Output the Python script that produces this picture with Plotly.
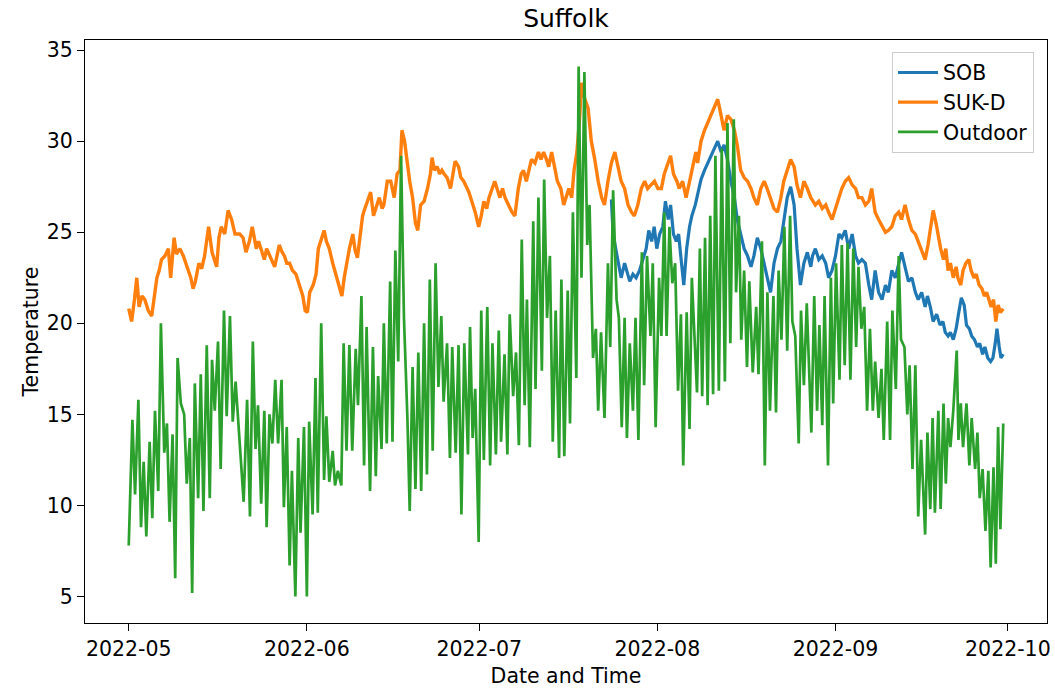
import pandas as pd
import plotly.graph_objects as go

START = pd.Timestamp("2022-05-01")

# Outdoor temperature: elapsed days since 1 May 2022 and readings (deg C)
outdoor_days = [
    0.0, 0.64, 1.1, 1.68, 2.14, 2.6, 3.06, 3.64, 4.1, 4.57, 5.14, 5.6, 6.18, 6.65, 7.11, 7.63,
    8.09, 8.5, 9.07, 9.65, 10.1, 10.63, 11.04, 11.5, 12.08, 12.54, 13.0, 13.58, 14.1, 14.5,
    14.97, 15.54, 16.0, 16.58, 17.05, 17.62, 18.1, 18.6,
    20.0, 20.6, 21.1, 21.6, 22.07, 22.5, 23.05, 23.6, 24.0, 24.5, 25.0, 25.5, 26.0, 26.6, 27.0,
    27.5, 28.0, 28.4, 29.0, 29.5, 29.9, 30.5, 31.0, 31.4, 32.0, 32.5, 32.9, 33.5, 34.0, 34.4,
    34.9, 35.5, 35.9, 36.4, 37.0, 37.4, 37.9, 38.4,
    38.9, 39.5, 39.9, 40.5, 40.96, 41.4, 42.0, 42.5, 43.0, 43.4, 44.0, 44.4, 44.9, 45.5, 45.9,
    46.4, 46.9, 47.4, 47.9, 48.5, 48.9, 49.4, 49.9, 50.4, 50.9, 51.4, 51.9, 52.4, 52.9, 53.4,
    53.9, 54.4, 54.8, 55.4, 55.9, 56.3, 56.9, 57.4, 57.9, 58.4,
    59.04, 59.4, 59.85, 60.3, 60.9, 61.35, 61.8, 62.4, 62.9, 63.3, 63.9, 64.4, 64.8, 65.4,
    65.9, 66.3, 66.9, 67.4, 67.9, 68.4, 68.9, 69.3, 69.8, 70.4, 70.8, 71.3, 71.9, 72.3, 72.8,
    73.3, 73.8, 74.3, 74.9, 75.3, 75.8, 76.4, 76.8, 77.3, 77.9, 78.3,
    78.8, 79.3, 79.8, 80.2, 80.8, 81.3, 81.7, 82.2, 82.8, 83.4, 83.8, 84.3, 84.9, 85.3, 85.8,
    86.3, 86.7, 87.2, 87.75, 88.2, 88.7, 89.3, 89.7, 90.2, 90.8, 91.2, 91.7, 92.3, 92.7, 93.2,
    93.6, 94.1, 94.6, 95.1, 95.6, 96.1, 96.5, 97.1, 97.6, 98.0,
    98.9, 99.4, 99.8, 100.3, 100.75, 101.2, 101.7, 102.1, 102.7, 103.2, 103.75, 104.2, 104.7,
    105.3, 105.7, 106.2, 106.6, 107.1, 107.6, 108.0, 108.6, 109.2, 109.6, 110.2, 110.7,
    111.15, 111.6, 112.2, 112.65, 113.1, 113.6, 114.1, 114.6, 115.1, 115.5, 116.0, 116.6,
    117.0, 117.5, 118.0,
    118.8, 119.3, 119.8, 120.2, 120.7, 121.1, 121.7, 122.2, 122.6, 123.1, 123.7, 124.1, 124.6,
    125.1, 125.6, 126.1, 126.6, 127.0, 127.5, 128.0, 128.5, 129.0, 129.5, 129.9, 130.5, 131.0,
    131.4, 132.0, 132.5, 132.9, 133.5, 134.0, 134.4, 135.0, 135.5, 135.9, 136.4, 136.9, 137.4,
    137.9,
    138.6, 139.0, 139.5, 139.9, 140.3, 140.9, 141.3, 141.8, 142.2, 142.6, 143.0, 143.5, 144.1,
    144.4, 144.8, 145.2, 145.8, 146.3, 146.7, 147.3, 147.7, 148.1, 148.6, 149.1, 149.6, 150.0,
    150.5, 150.9, 151.3, 151.7, 152.2,
]
outdoor_temp = [
    7.8, 14.7, 10.6, 15.8, 8.8, 12.4, 8.3, 13.5, 9.3, 15.2, 10.8, 20.0, 12.9, 14.5, 9.1, 13.9,
    6.0, 18.1, 15.6, 15.0, 11.2, 13.7, 5.2, 16.7, 10.4, 17.2, 9.7, 18.8, 10.4, 18.0,
    15.2, 19.0, 12.0, 20.7, 14.9, 20.4, 14.6, 16.8,
    10.2, 15.8, 9.4, 19.0, 13.1, 15.5, 10.1, 15.2, 8.8, 15.0, 13.4, 16.9, 13.4, 16.9, 9.9,
    14.3, 6.7, 11.9, 5.0, 13.7, 8.5, 14.3, 5.0, 14.6, 9.5, 17.0, 9.6, 20.0, 11.4, 14.9,
    11.3, 13.0, 11.1, 11.9, 11.1, 18.9, 13.0, 18.8,
    13.0, 18.6, 15.5, 21.5, 12.2, 19.8, 10.8, 18.7, 11.6, 17.1, 13.1, 20.0, 13.4, 22.3, 13.5,
    24.0, 17.9, 29.2, 20.3, 14.8, 9.7, 17.6, 10.9, 18.4, 10.8, 20.0, 11.7, 22.4, 13.0, 23.3,
    16.5, 20.4, 15.7, 18.9, 12.6, 18.7, 12.9, 18.8, 9.5, 18.9,
    12.8, 19.8, 13.7, 16.4, 8.0, 20.7, 12.5, 20.9, 12.2, 18.9, 12.8, 19.6, 13.5, 18.3,
    12.8, 20.5, 16.0, 18.4, 13.3, 24.6, 15.5, 21.3, 13.2, 25.6, 16.4, 26.9, 17.4, 27.9, 20.3,
    23.7, 13.5, 20.7, 12.6, 22.4, 12.7, 21.8, 14.5, 26.1, 17.0, 34.1,
    22.5, 33.8, 24.3, 26.5, 18.1, 19.7, 15.2, 19.5, 14.8, 23.3, 18.7, 27.3, 21.3, 20.3, 14.3,
    20.3, 13.7, 18.9, 15.2, 20.3, 13.6, 23.9, 16.6, 23.7, 19.3, 23.3, 14.3, 22.5, 19.3, 26.1,
    19.3, 25.3, 22.2, 23.3, 16.3, 20.5, 12.2, 20.6, 14.2, 22.5,
    16.2, 24.1, 16.0, 24.7, 15.5, 25.9, 16.1, 29.2, 16.3, 29.6, 16.8, 31.0, 18.9,
    31.2, 21.7, 25.9, 19.1, 22.9, 17.6, 22.3, 17.3, 20.9, 17.2, 24.5, 12.2,
    21.7, 15.2, 21.5, 15.1, 22.9, 19.1, 25.3, 18.5, 25.9, 20.1, 19.3, 13.4,
    20.7, 16.6, 21.1,
    14.0, 21.5, 15.2, 19.9, 14.4, 21.5, 12.2, 22.5, 15.6, 23.3, 16.9, 24.3, 17.7,
    24.4, 16.9, 24.1, 18.7, 23.1, 19.7, 20.9, 15.2, 19.7, 15.2, 17.9, 14.8, 17.5,
    13.6, 20.1, 13.6, 20.7, 16.4, 23.7, 19.1, 18.7, 15.0, 17.7, 12.0, 17.7, 9.4,
    13.6,
    8.4, 14.0, 9.8, 14.8, 9.6, 15.2, 9.8, 15.6, 11.2, 14.8, 13.2, 15.2, 18.5,
    13.6, 15.6, 13.2, 15.6, 12.2, 14.8, 12.0, 14.0, 10.4, 12.0, 8.6, 11.9, 6.6,
    12.1, 6.8, 14.3, 8.7, 14.5,
]

# SUK-D indoor temperature
sukd_days = [
    0.0, 0.5, 1.0, 1.4, 1.8, 2.3, 2.8, 3.4, 4.0, 4.4, 4.9, 5.3, 5.7, 6.3, 6.9, 7.3, 7.9, 8.3,
    8.9, 9.5, 9.9, 10.3, 10.8, 11.2, 11.6, 12.2, 12.7, 13.2, 13.9, 14.5, 15.3, 15.7, 16.1,
    16.7, 17.3, 17.9, 18.5,
    19.3, 19.9, 20.4, 21.0, 21.5, 22.2, 22.6, 23.0, 23.6, 24.0, 24.5, 25.0, 25.4, 25.8, 26.2,
    26.7, 27.1, 27.5, 28.0, 28.5, 29.1, 29.7, 30.3, 30.7, 31.1, 31.5, 32.1, 32.6, 33.0, 33.6,
    34.0, 34.4, 34.9, 35.5, 36.0, 36.6, 37.1, 37.5, 37.9, 38.4,
    39.0, 39.4, 39.8, 40.3, 40.7, 41.1, 41.5, 42.1, 42.6, 43.0, 43.6, 44.1, 44.4, 45.0, 45.6,
    46.2, 46.7, 47.2, 47.55, 48.0, 48.5, 48.9, 49.4, 49.9, 50.3, 50.8, 51.4, 52.0, 52.5, 52.8,
    53.2, 53.7, 54.1, 54.5, 54.9, 55.4, 56.0, 56.4, 56.8, 57.4, 57.8, 58.3,
    58.9, 59.2, 59.7, 60.3, 60.9, 61.35, 61.8, 62.3, 62.7, 63.2, 63.7, 64.1, 64.6, 65.05, 65.5,
    66.1, 66.7, 67.2, 67.8, 68.3, 68.7, 69.2, 69.7, 70.1, 70.7, 71.3, 71.75, 72.2, 72.7, 73.1,
    73.6, 74.1, 74.6, 75.2, 75.7, 76.1, 76.6, 77.1, 77.5, 78.0, 78.5, 78.8, 79.3,
    79.95, 80.5, 81.1, 81.7, 82.3, 82.8, 83.4, 84.0, 84.6, 85.2, 85.7, 86.3, 86.9, 87.5, 88.0,
    88.6, 89.2, 89.8, 90.3, 90.9, 91.5, 92.1, 92.7, 93.2, 93.8, 94.3, 94.8, 95.4, 95.8, 96.4,
    97.0, 97.6, 98.1,
    98.7, 99.0, 99.6, 100.2, 100.75, 101.3, 101.9, 102.5, 103.1, 103.6, 104.2, 104.8, 105.4,
    105.9, 106.5, 107.1, 107.7, 108.3, 108.8, 109.4, 110.0, 110.6, 111.1, 111.7, 112.3, 112.9,
    113.5, 114.0, 114.6, 115.2, 115.8, 116.3, 116.9, 117.5, 118.1,
    118.7, 119.5, 120.1, 120.7, 121.3, 121.8, 122.4, 123.0, 123.6, 124.1, 124.7, 125.3, 125.9,
    126.5, 127.0, 127.6, 128.2, 128.8, 129.3, 129.9, 130.5, 131.1, 131.7, 132.2, 132.8, 133.4,
    134.0, 134.5, 135.1, 135.7, 136.3, 136.9, 137.4, 138.0, 138.6,
    139.1, 139.6, 140.0, 140.5, 140.9, 141.3, 141.8, 142.2, 142.6, 143.0, 143.5, 144.0, 144.3,
    144.8, 145.2, 145.7, 146.2, 146.6, 147.1, 147.5, 148.0, 148.5, 148.9, 149.3, 149.7, 150.1,
    150.5, 150.9, 151.3, 151.7, 152.2,
]
sukd_temp = [
    20.8, 20.1, 21.3, 22.5, 20.9, 21.5, 21.3, 20.7, 20.4, 21.3, 22.5, 22.9, 23.5, 23.7, 24.1,
    22.5, 24.7, 23.8, 24.1, 23.7, 23.3, 22.9, 22.5, 21.9, 22.3, 23.3, 23.0, 23.7, 25.3, 23.9,
    23.1, 24.7, 25.3, 24.9, 26.2, 25.7, 24.9,
    24.9, 24.7, 23.9, 24.5, 25.3, 24.1, 24.5, 24.1, 23.5, 24.1, 23.7, 23.3, 23.1, 23.7, 24.3,
    23.9, 23.7, 23.3, 23.3, 22.9, 22.7, 22.1, 21.5, 20.7, 20.6, 21.7, 22.1, 22.7, 24.1, 24.7,
    25.1, 24.5, 24.1, 23.3, 22.7, 22.1, 21.5, 22.5, 23.3, 24.1,
    24.9, 24.0, 23.6, 24.9, 25.9, 26.3, 26.7, 27.2, 25.9, 26.3, 26.9, 26.3, 26.5, 27.8, 27.8,
    26.9, 28.2, 28.4, 30.6, 30.0, 28.6, 27.8, 26.9, 25.5, 25.1, 26.5, 26.7, 27.4, 28.2, 29.1,
    28.4, 28.6, 28.2, 28.4, 28.2, 28.0, 27.4, 28.2, 28.9, 28.6, 28.0, 27.8,
    27.4, 27.2, 26.7, 26.1, 25.3, 25.9, 26.7, 26.3, 26.9, 27.4, 27.8, 27.4, 26.9, 27.4, 26.9,
    26.5, 26.1, 25.9, 27.4, 28.2, 28.4, 27.8, 28.6, 29.0, 28.8, 29.4, 29.0, 29.4, 29.0, 28.6,
    29.4, 28.6, 27.8, 27.4, 26.5, 26.9, 27.4, 26.9, 28.4, 29.4, 31.4, 33.2, 32.4,
    31.8, 30.0, 29.0, 27.8, 26.9, 26.5, 27.8, 28.8, 29.4, 28.6, 27.8, 27.4, 26.5, 26.1, 25.9,
    26.5, 27.4, 27.8, 27.4, 27.6, 27.8, 27.4, 27.4, 28.2, 28.8, 29.2, 28.2, 27.8, 27.4, 27.8,
    26.9, 27.8, 28.4,
    29.4, 28.8, 30.0, 30.6, 31.0, 31.4, 31.8, 32.3, 31.4, 30.6, 31.4, 31.2, 30.6,
    29.8, 28.4, 28.0, 27.8, 27.4, 26.9, 26.5, 27.4, 27.8, 27.4, 26.9, 26.3, 26.1,
    26.9, 27.8, 28.4, 29.0, 28.6, 27.6, 26.9, 27.8, 27.4,
    26.9, 26.5, 26.7, 26.3, 26.5, 26.1, 25.7, 26.3, 26.9, 27.4, 27.8, 28.0, 27.6,
    27.4, 26.9, 26.9, 26.5, 26.7, 27.4, 26.1, 25.7, 25.3, 25.0, 25.1, 25.3, 25.9,
    26.1, 25.7, 26.5, 25.7, 25.1, 24.9, 24.5, 24.1, 23.5,
    24.3, 25.5, 26.2, 25.5, 24.7, 24.1, 23.5, 24.1, 22.9, 23.3, 22.5, 23.1, 22.5,
    22.1, 22.9, 23.3, 23.5, 22.9, 22.5, 22.7, 22.1, 21.9, 21.5, 21.7, 21.3, 20.9,
    21.3, 20.1, 21.0, 20.6, 20.8,
]

# SOB indoor temperature (logging begins late July)
sob_days = [
    84.0, 84.3, 84.75, 85.2, 85.7, 86.3, 86.7, 87.2, 87.75, 88.3, 88.9, 89.5, 90.05, 90.5,
    91.0, 91.45, 91.9, 92.4, 92.95, 93.4, 93.9, 94.3, 94.8, 95.3, 95.7, 96.2, 96.6, 97.1,
    97.6, 98.0,
    98.6, 99.1, 99.6, 100.2, 100.75, 101.3, 101.9, 102.5, 103.1, 103.6, 104.2, 104.8, 105.4,
    105.9, 106.5, 107.1, 107.7, 108.3, 108.8, 109.4, 110.0, 110.6, 111.1, 111.7, 112.3, 112.9,
    113.5, 114.0, 114.6, 115.2, 115.8, 116.3, 116.9, 117.5, 118.1,
    118.7, 119.0, 119.5, 120.1, 120.7, 121.3, 121.8, 122.4, 123.0, 123.6, 124.1, 124.7, 125.3,
    125.9, 126.5, 127.0, 127.6, 128.2, 128.8, 129.3, 129.9, 130.5, 131.1, 131.7, 132.2, 132.8,
    133.4, 134.0, 134.5, 135.1, 135.7, 136.3, 136.9, 137.4, 138.0, 138.6,
    139.0, 139.5, 140.0, 140.6, 141.2, 141.7, 142.1, 142.6, 143.0, 143.5, 144.0, 144.4, 144.9,
    145.4, 145.8, 146.3, 146.7, 147.2, 147.7, 148.1, 148.6, 149.0, 149.5, 150.0, 150.4, 150.8,
    151.1, 151.5, 151.8, 152.2,
]
sob_temp = [
    26.8, 24.9, 24.1, 23.3, 22.5, 23.3, 22.9, 22.3, 22.7, 22.5, 22.9, 23.5, 24.1, 25.1,
    24.5, 25.3, 24.1, 24.9, 25.3, 26.7, 25.7, 26.5, 24.9, 24.5, 24.9, 23.3, 22.1, 24.1,
    25.3, 25.9,
    26.5, 27.2, 27.9, 28.4, 28.8, 29.2, 29.6, 30.0, 29.4, 29.8, 29.0, 27.8, 26.9,
    25.7, 24.9, 24.1, 23.7, 23.1, 23.7, 24.7, 24.1, 23.3, 22.5, 21.7, 23.3, 24.1,
    24.5, 25.7, 26.9, 27.5, 26.5, 24.1, 22.1, 23.3, 23.9,
    23.1, 23.7, 24.1, 23.5, 23.7, 23.3, 22.5, 22.9, 23.7, 24.9, 24.7, 25.1, 24.1,
    24.9, 23.7, 23.3, 23.5, 23.3, 22.1, 21.3, 22.9, 21.7, 21.3, 22.1, 21.7, 22.9,
    22.5, 23.3, 23.9, 23.1, 22.3, 22.5, 21.7, 21.3, 21.7, 20.9,
    21.5, 20.9, 20.1, 20.5, 19.9, 20.1, 19.5, 19.3, 19.5, 19.1, 19.7, 20.5, 21.4,
    21.0, 19.9, 19.7, 19.3, 19.1, 18.7, 18.9, 18.3, 18.7, 18.1, 17.9, 18.1, 18.9,
    19.7, 18.7, 18.1, 18.3,
]

series_names = ["SOB", "SUK-D", "Outdoor"]
series_colors = ["#1f77b4", "#ff7f0e", "#2ca02c"]
series_widths = [3.2, 3.4, 2.7]

month_ticks = ["2022-05-01", "2022-06-01", "2022-07-01", "2022-08-01", "2022-09-01", "2022-10-01"]
month_labels = ["2022-05", "2022-06", "2022-07", "2022-08", "2022-09", "2022-10"]
temp_ticks = [5, 10, 15, 20, 25, 30, 35]


def to_time(days):
    return START + pd.to_timedelta(days, unit="D")


series = [
    (sob_days, sob_temp),
    (sukd_days, sukd_temp),
    (outdoor_days, outdoor_temp),
]

FONT = "DejaVu Sans"

fig = go.Figure()
for (days, temps), name, color, width in zip(series, series_names, series_colors, series_widths):
    fig.add_trace(go.Scatter(
        x=to_time(days), y=temps, mode="lines", name=name,
        line=dict(color=color, width=width),
    ))

# Pad both axes by 5% of the data span on each side
all_days = outdoor_days + sukd_days + sob_days
d0, d1 = min(all_days), max(all_days)
dpad = 0.05 * (d1 - d0)
all_t = outdoor_temp + sukd_temp + sob_temp
t0, t1 = min(all_t), max(all_t)
tpad = 0.05 * (t1 - t0)

axis_style = dict(
    showline=True, linecolor="black", linewidth=1.3, mirror=True,
    ticks="outside", ticklen=7, tickwidth=1.3, tickcolor="black",
    showgrid=False, zeroline=False,
    tickfont=dict(family=FONT, size=20.5, color="black"),
)

fig.update_layout(
    width=1055, height=688,
    margin=dict(l=85, r=4, t=40, b=65),
    paper_bgcolor="white", plot_bgcolor="white",
    font=dict(family=FONT, color="black"),
    title=dict(text="Suffolk", x=0.5, xref="paper", xanchor="center",
               y=1 - 18 / 688, yref="container", yanchor="middle",
               font=dict(family=FONT, size=25, color="black")),
    xaxis=dict(
        type="date",
        range=[to_time(d0 - dpad), to_time(d1 + dpad)],
        tickvals=month_ticks, ticktext=month_labels,
        title=dict(text="Date and Time", font=dict(family=FONT, size=20.5, color="black"),
                   standoff=8),
        **axis_style,
    ),
    yaxis=dict(
        range=[t0 - tpad, t1 + tpad],
        tickvals=temp_ticks,
        title=dict(text="Temperature", font=dict(family=FONT, size=20.5, color="black"),
                   standoff=2),
        **axis_style,
    ),
    legend=dict(
        x=0.9865, xanchor="right", y=0.98, yanchor="top",
        bgcolor="rgba(255,255,255,0.8)", bordercolor="#cccccc", borderwidth=1,
        font=dict(family=FONT, size=20.5, color="black"),
        itemwidth=40,
    ),
)

fig.write_html("out.html")
